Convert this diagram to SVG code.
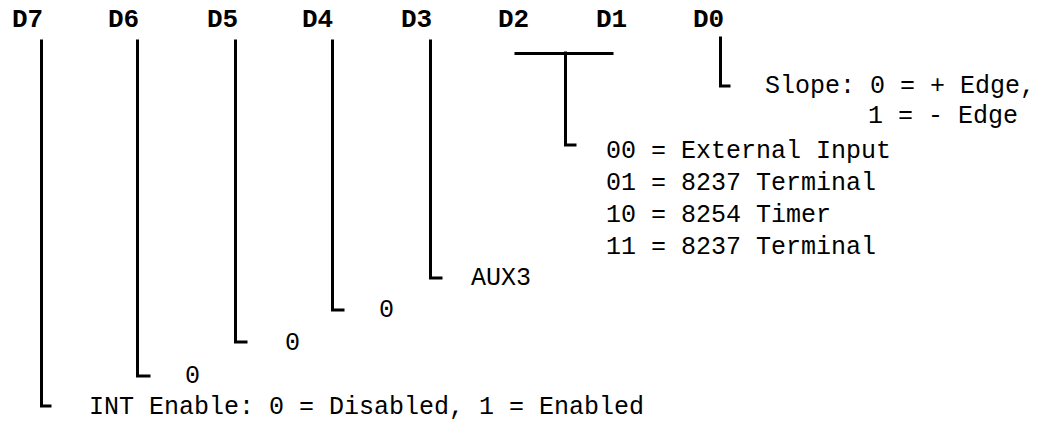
<svg xmlns="http://www.w3.org/2000/svg" width="1053" height="422" viewBox="0 0 1053 422">
<style>
.lbl{font-family:"Liberation Mono","DejaVu Sans Mono",monospace;font-weight:bold;font-size:26px;fill:#000}
.t{font-family:"Liberation Mono","DejaVu Sans Mono",monospace;font-size:25px;fill:#000}
.ln{fill:none;stroke:#000;stroke-width:3;stroke-linecap:square;stroke-linejoin:miter}
</style>
<rect width="1053" height="422" fill="#fff"/>
<g id="labels">
<text class="lbl" x="12" y="27">D7</text>
<text class="lbl" x="108" y="27">D6</text>
<text class="lbl" x="207" y="27">D5</text>
<text class="lbl" x="302" y="27">D4</text>
<text class="lbl" x="401" y="27">D3</text>
<text class="lbl" x="498" y="27">D2</text>
<text class="lbl" x="596" y="27">D1</text>
<text class="lbl" x="693" y="27">D0</text>
</g>
<g id="connectors">
<path class="ln" d="M41.5,41 V406 H50"/>
<path class="ln" d="M137.5,41 V376 H149"/>
<path class="ln" d="M235.5,41 V342 H246"/>
<path class="ln" d="M332.5,41 V310 H343"/>
<path class="ln" d="M430.5,41 V278 H441"/>
<path class="ln" d="M516,53.5 H612"/>
<path class="ln" d="M565.5,53 V145 H575"/>
<path class="ln" d="M720.5,38 V86 H729"/>
</g>
<g id="d0"><text class="t" x="765" y="93">Slope: 0 = + Edge,</text>
<text class="t" x="868" y="123">1 = - Edge</text></g>
<g id="d21">
<text class="t" x="606" y="158">00 = External Input</text>
<text class="t" x="606" y="190">01 = 8237 Terminal</text>
<text class="t" x="606" y="222">10 = 8254 Timer</text>
<text class="t" x="606" y="254">11 = 8237 Terminal</text>
</g>
<g id="d3"><text class="t" x="471" y="285">AUX3</text></g>
<g id="d4"><text class="t" x="379" y="317">0</text></g>
<g id="d5"><text class="t" x="285" y="350">0</text></g>
<g id="d6"><text class="t" x="185" y="383">0</text></g>
<g id="d7"><text class="t" x="89" y="414">INT Enable: 0 = Disabled, 1 = Enabled</text></g>
</svg>
